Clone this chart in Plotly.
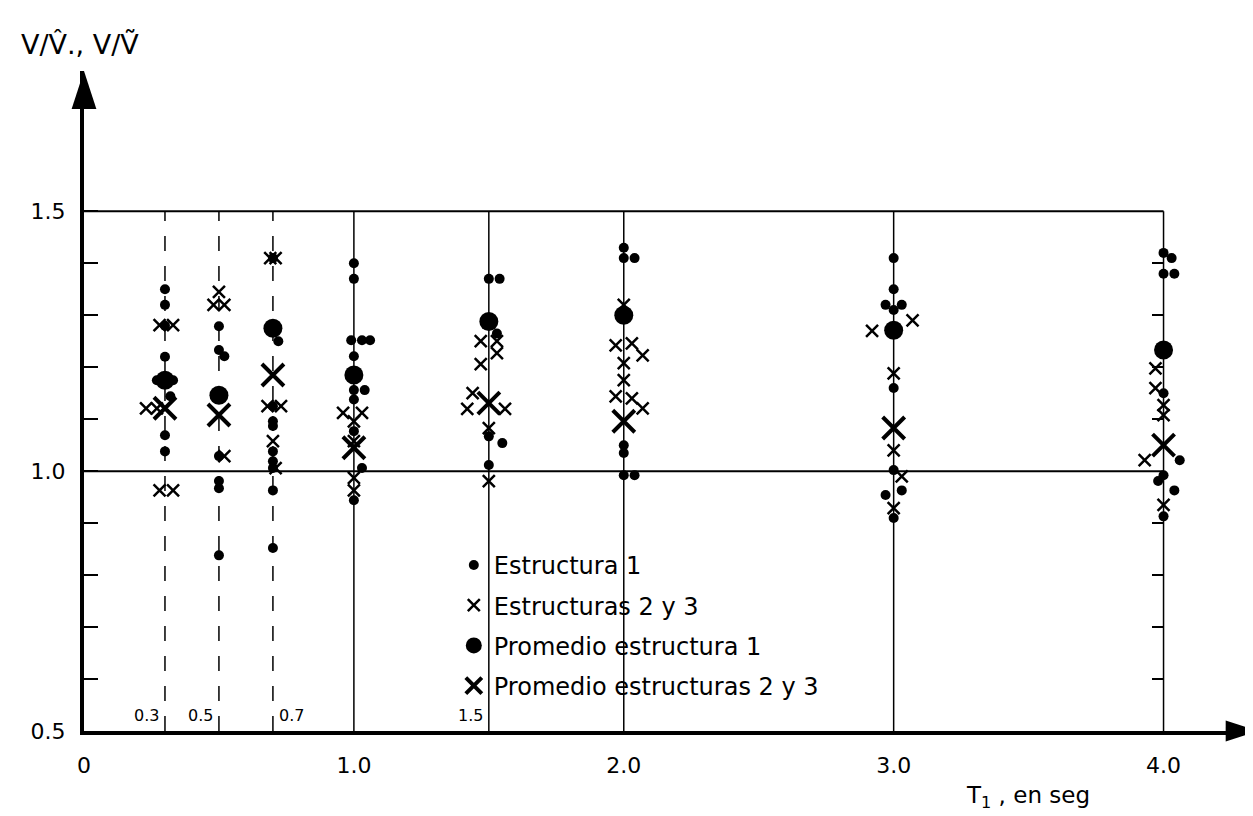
import plotly.graph_objects as go

# periods where the records were evaluated
periods = [0.3, 0.5, 0.7, 1.0, 1.5, 2.0, 3.0, 4.0]
dashed_periods = [0.3, 0.5, 0.7]

# Estructura 1 (small dots)
est1_T = [0.30, 0.30, 0.30, 0.30, 0.27, 0.33, 0.32, 0.30, 0.30,
          0.50, 0.50, 0.52, 0.50, 0.50, 0.50, 0.50,
          0.72, 0.70, 0.70, 0.70, 0.70, 0.70, 0.70, 0.70, 0.70, 0.70,
          1.00, 1.00, 0.99, 1.03, 1.06, 1.00, 1.00, 1.04, 1.00, 1.00, 1.03, 1.00,
          1.50, 1.54, 1.53, 1.50, 1.55, 1.50,
          2.00, 2.00, 2.04, 2.00, 2.00, 2.00, 2.04,
          3.00, 3.00, 2.97, 3.03, 3.00, 3.00, 3.00, 2.97, 3.03, 3.00,
          4.00, 4.03, 4.00, 4.04, 4.00, 4.06, 4.00, 3.98, 4.04, 4.00]
est1_V = [1.35, 1.32, 1.28, 1.22, 1.175, 1.175, 1.144, 1.069, 1.038,
          1.279, 1.233, 1.221, 1.029, 0.981, 0.967, 0.838,
          1.25, 1.41, 1.125, 1.096, 1.087, 1.038, 1.019, 1.006, 0.963, 0.852,
          1.40, 1.37, 1.252, 1.252, 1.252, 1.221, 1.156, 1.156, 1.138, 1.077, 1.006, 0.944,
          1.37, 1.37, 1.265, 1.067, 1.054, 1.012,
          1.43, 1.41, 1.41, 1.05, 1.035, 0.992, 0.992,
          1.41, 1.35, 1.32, 1.32, 1.31, 1.16, 1.002, 0.954, 0.963, 0.91,
          1.42, 1.41, 1.38, 1.38, 1.15, 1.021, 0.992, 0.981, 0.963, 0.913]

# Estructuras 2 y 3 (small x)
est23_T = [0.28, 0.33, 0.23, 0.27, 0.28, 0.33,
           0.50, 0.48, 0.52, 0.52,
           0.69, 0.71, 0.68, 0.73, 0.70, 0.71,
           0.96, 1.03, 1.00, 1.00, 1.00, 1.00,
           1.47, 1.53, 1.53, 1.47, 1.44, 1.42, 1.56, 1.50, 1.50,
           2.00, 1.97, 2.03, 2.07, 2.00, 2.00, 1.97, 2.03, 2.07,
           2.92, 3.07, 3.00, 3.00, 3.03, 3.00,
           3.97, 3.97, 4.00, 4.00, 3.93, 4.00]
est23_V = [1.281, 1.281, 1.121, 1.121, 0.963, 0.963,
           1.345, 1.32, 1.32, 1.029,
           1.41, 1.41, 1.125, 1.125, 1.058, 1.006,
           1.112, 1.112, 1.096, 1.058, 0.987, 0.963,
           1.25, 1.25, 1.227, 1.206, 1.15, 1.12, 1.12, 1.083, 0.981,
           1.32, 1.242, 1.246, 1.223, 1.208, 1.175, 1.144, 1.14, 1.121,
           1.27, 1.29, 1.188, 1.04, 0.99, 0.929,
           1.198, 1.16, 1.127, 1.108, 1.021, 0.935]

# averages
prom1_V = [1.175, 1.146, 1.275, 1.185, 1.288, 1.30, 1.271, 1.233]
prom23_V = [1.121, 1.108, 1.185, 1.045, 1.131, 1.096, 1.083, 1.05]

x_ticks = [0, 1, 2, 3, 4]
x_ticktext = ["0", "1.0", "2.0", "3.0", "4.0"]
y_ticks = [0.5, 1.0, 1.5]
y_ticktext = ["0.5", "1.0", "1.5"]
y_minor = [0.6, 0.7, 0.8, 0.9, 1.1, 1.2, 1.3, 1.4]

FONT = "DejaVu Sans"
X_MAX = 4.35
Y_MAX = 1.77

fig = go.Figure()

fig.add_trace(go.Scatter(x=est1_T, y=est1_V, mode="markers", name="Estructura 1",
                         legendgroup="a",
                         marker=dict(symbol="circle", size=10, color="black")))
fig.add_trace(go.Scatter(x=est23_T, y=est23_V, mode="markers", name="Estructuras 2 y 3",
                         legendgroup="b",
                         marker=dict(symbol="x-thin", size=12, color="black",
                                     line=dict(width=2.5, color="black"))))
fig.add_trace(go.Scatter(x=periods, y=prom1_V, mode="markers", name="Promedio estructura 1",
                         legendgroup="c",
                         marker=dict(symbol="circle", size=19, color="black")))
fig.add_trace(go.Scatter(x=periods, y=prom23_V, mode="markers",
                         name="Promedio estructuras 2 y 3", legendgroup="d",
                         marker=dict(symbol="x-thin", size=22, color="black",
                                     line=dict(width=4, color="black"))))

# arrow heads at the ends of both axes
fig.add_trace(go.Scatter(x=[X_MAX], y=[0.5], mode="markers", showlegend=False,
                         cliponaxis=False, hoverinfo="skip",
                         marker=dict(symbol="arrow", angle=90, size=34, color="black")))
fig.add_trace(go.Scatter(x=[0], y=[Y_MAX], mode="markers", showlegend=False,
                         cliponaxis=False, hoverinfo="skip",
                         marker=dict(symbol="arrow", angle=0, size=40, color="black")))

# vertical guide lines at each period
for t in periods:
    fig.add_shape(type="line", x0=t, x1=t, y0=0.5, y1=1.5, layer="below",
                  line=dict(color="black", width=1.5,
                            dash="longdash" if t in dashed_periods else "solid"))

# horizontal reference lines
for v in [1.0, 1.5]:
    fig.add_shape(type="line", x0=0, x1=4.0, y0=v, y1=v, layer="below",
                  line=dict(color="black", width=2))

# period labels near the base
for t, txt, side in [(0.3, "0.3", "right"), (0.5, "0.5", "right"),
                     (0.7, "0.7", "left"), (1.5, "1.5", "right")]:
    fig.add_annotation(x=t, y=0.5, text=txt, showarrow=False, yanchor="bottom",
                       xanchor=side, xshift=-4 if side == "right" else 4, yshift=4,
                       font=dict(size=16, color="black", family=FONT))

# axis titles
fig.add_annotation(x=3.26, y=-0.125, xref="x", yref="paper", xanchor="left",
                   text="T<sub>1</sub> , en seg", showarrow=False,
                   font=dict(size=23, color="black", family=FONT))
fig.add_annotation(x=-0.055, y=1.04, xref="paper", yref="paper", xanchor="left",
                   yanchor="middle", text="V/V\u0302., V/V\u0303", showarrow=False,
                   font=dict(size=27, color="black", family=FONT))

fig.update_xaxes(range=[0, X_MAX], showgrid=False, zeroline=False, showline=True,
                 linecolor="black", linewidth=4, tickvals=x_ticks, ticktext=x_ticktext,
                 ticks="", ticklabelstandoff=12,
                 tickfont=dict(size=22, color="black", family=FONT),
                 automargin=False)
fig.update_yaxes(range=[0.5, Y_MAX], showgrid=False, zeroline=False, showline=True,
                 linecolor="black", linewidth=4, tickvals=y_ticks, ticktext=y_ticktext,
                 ticks="inside", ticklen=14, tickwidth=2, tickcolor="black",
                 ticklabelstandoff=10,
                 minor=dict(tickmode="array", tickvals=y_minor, ticks="inside",
                            ticklen=14, tickwidth=2, tickcolor="black"),
                 tickfont=dict(size=22, color="black", family=FONT),
                 automargin=False)

# little ticks along the 4.0 line
fig.update_layout(yaxis2=dict(overlaying="y", anchor="free", position=4.0 / X_MAX,
                              side="left", range=[0.5, Y_MAX], showgrid=False,
                              zeroline=False, showline=False, showticklabels=False,
                              tickmode="array", tickvals=y_minor, ticks="outside",
                              ticklen=12, tickwidth=2, tickcolor="black"))
fig.add_trace(go.Scatter(x=[], y=[], yaxis="y2", showlegend=False))

fig.update_layout(
    width=1253, height=816,
    margin=dict(l=76, r=3, t=63, b=93),
    plot_bgcolor="white", paper_bgcolor="white",
    showlegend=True,
    legend=dict(x=0.315, y=0.285, xanchor="left", yanchor="top",
                bgcolor="rgba(0,0,0,0)", itemsizing="trace", tracegroupgap=6,
                font=dict(size=24, color="black", family=FONT)),
)

fig.write_html("out.html")
